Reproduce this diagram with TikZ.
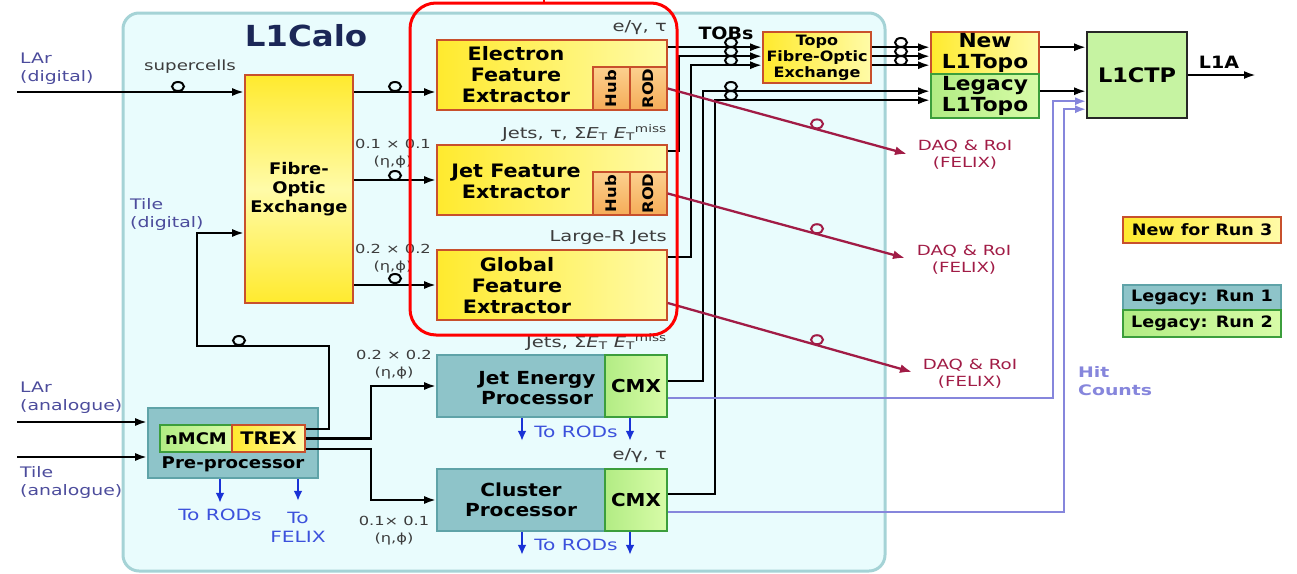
\documentclass[tikz,border=0pt]{standalone}
\usepackage{fontspec}
\setmainfont{DejaVu Sans}[FakeStretch=1.12]
\newfontfamily\lblfont{DejaVu Sans}[FakeStretch=1.3]
\usepackage{graphicx}
\usepackage{tikz}
\usetikzlibrary{positioning,arrows.meta,shapes.geometric}

\definecolor{calobg}{HTML}{E9FCFD}
\definecolor{caloedge}{HTML}{A5D3D6}
\definecolor{ylw}{HTML}{FFEA2E}
\definecolor{ylwpale}{HTML}{FFFBA8}
\definecolor{yledge}{HTML}{C8502C}
\definecolor{org}{HTML}{F5AC58}
\definecolor{orgpale}{HTML}{FCD08E}
\definecolor{grn}{HTML}{B2EC84}
\definecolor{grnpale}{HTML}{D8FCA8}
\definecolor{grnedge}{HTML}{3C9E3C}
\definecolor{tealfill}{HTML}{8EC4C9}
\definecolor{tealedge}{HTML}{5FA3A8}
\definecolor{ctpfill}{HTML}{C6F3A2}
\definecolor{navy}{HTML}{1B2757}
\definecolor{inblue}{HTML}{4C4C9C}
\definecolor{rodblue}{HTML}{1A32D6}
\definecolor{daqred}{HTML}{A11C46}
\definecolor{hitblue}{HTML}{8686DC}
\definecolor{lblgrey}{HTML}{3C3C3C}

\begin{document}
\begin{tikzpicture}[x=1pt, y=-1pt,
calo/.style={draw=caloedge, fill=calobg, line width=3pt, rounded corners=16pt, inner sep=0pt},
box/.style={draw=yledge, line width=1.6pt, inner sep=0pt, align=center},
yelbox/.style={box, left color=ylw, right color=ylwpale},
orgbox/.style={box, top color=orgpale, bottom color=org, minimum width=37pt, minimum height=43pt,
  font=\fontsize{14.6}{16}\selectfont\bfseries},
grnbox/.style={box, draw=grnedge, left color=grn, right color=grnpale},
tealbox/.style={box, draw=tealedge, fill=tealfill},
fextxt/.style={align=center, inner sep=0pt, font=\fontsize{18.5}{21}\selectfont\bfseries},
proctxt/.style={align=center, inner sep=0pt, font=\fontsize{18}{20}\selectfont\bfseries},
lbl/.style={inner sep=0pt, text=lblgrey, font=\lblfont\fontsize{15}{17}\selectfont},
gran/.style={inner sep=0pt, align=center, text=lblgrey, font=\lblfont\fontsize{12.5}{17}\selectfont},
inlbl/.style={inner sep=0pt, align=left, anchor=west, text=inblue, font=\lblfont\fontsize{14.5}{18}\selectfont},
daqlbl/.style={inner sep=0pt, align=center, text=daqred, font=\lblfont\fontsize{14}{17}\selectfont},
rodlbl/.style={inner sep=0pt, align=center, text=rodblue!85!white, font=\lblfont\fontsize{15.5}{19}\selectfont},
legbox/.style={box, minimum width=158pt, font=\fontsize{15.7}{17}\selectfont\bfseries},
sig/.style={line width=2.3pt, -{Latex[length=12pt,width=8pt]}},
daq/.style={draw=daqred, line width=2.3pt, -{Latex[length=12pt,width=9pt]}},
hit/.style={draw=hitblue, line width=2.2pt, -{Latex[length=11pt,width=8pt]}},
rod/.style={draw=rodblue, line width=2.8pt, -{Latex[length=10pt,width=9pt]}},
fib/.style={ellipse, draw, line width=2pt, minimum width=12pt, minimum height=9pt, inner sep=0pt, anchor=south}
]
\useasboundingbox (0,0) rectangle (1297,573);

% L1Calo crate
\node[calo, minimum width=762pt, minimum height=558pt] (calo) at (504,292) {};
\node[text=navy, font=\fontsize{29}{32}\selectfont\bfseries] (l1calo) at (306,36) {L1Calo};

% inputs
\node[inlbl] (lardlbl) at (20,69) {LAr\\(digital)};
\node[inlbl] (tiledlbl) at (130,214) {Tile\\(digital)};
\node[inlbl] (laralbl) at (20,398) {LAr\\(analogue)};
\node[inlbl] (tilealbl) at (20,482) {Tile\\(analogue)};
\node[lbl, font=\lblfont\fontsize{14}{17}\selectfont] (superlbl) at (190,67) {supercells};

% fibre-optic exchange
\node[box, top color=ylw, bottom color=ylw, middle color=ylwpale, minimum width=108pt, minimum height=228pt,
  font=\fontsize{16}{19}\selectfont\bfseries] (fox) at (299,189) {Fibre-\\Optic\\Exchange};

% feature extractors
\node[yelbox, minimum width=230pt, minimum height=70pt] (efex) at (552,75) {};
\node[orgbox] (ehub) at (611.5,88.5) {\rotatebox{90}{Hub}};
\node[orgbox] (erod) at (648.5,88.5) {\rotatebox{90}{ROD}};
\node[fextxt] (efextxt) at (516,75) {Electron\\Feature\\Extractor};

\node[yelbox, minimum width=230pt, minimum height=70pt] (jfex) at (552,180) {};
\node[orgbox] (jhub) at (611.5,193.5) {\rotatebox{90}{Hub}};
\node[orgbox] (jrod) at (648.5,193.5) {\rotatebox{90}{ROD}};
\node[fextxt] (jfextxt) at (516,181) {Jet Feature\\Extractor};

\node[yelbox, minimum width=230pt, minimum height=70pt] (gfex) at (552,285) {};
\node[fextxt] (gfextxt) at (517,286) {Global\\Feature\\Extractor};

\node[lbl, anchor=east] (elbl) at (667,28) {e/γ, τ};
\node[lbl, anchor=east] (jlbl) at (667,133) {Jets, τ, Σ\textit{E}\textsubscript{T} \textit{E}\textsubscript{T}\textsuperscript{miss}};
\node[lbl, anchor=east] (glbl) at (667,238) {Large-R Jets};
\node[gran] (gran1) at (393,154) {0.1 × 0.1\\(η,ϕ)};
\node[gran] (gran2) at (393,259) {0.2 × 0.2\\(η,ϕ)};

% legacy processors
\node[tealbox, minimum width=168pt, minimum height=62pt] (jep) at (521,386) {};
\node[grnbox, minimum width=62pt, minimum height=62pt, font=\fontsize{17.8}{20}\selectfont\bfseries] (jcmx) at (636,386) {CMX};
\node[proctxt] (jeptxt) at (537,388) {Jet Energy\\Processor};
\node[tealbox, minimum width=168pt, minimum height=62pt, font=\fontsize{18}{20}\selectfont\bfseries] (cp) at (521,500) {Cluster\\Processor};
\node[grnbox, minimum width=62pt, minimum height=62pt, font=\fontsize{17.8}{20}\selectfont\bfseries] (ccmx) at (636,500) {CMX};
\node[lbl, anchor=east] (jeplbl) at (667,342) {Jets, Σ\textit{E}\textsubscript{T} \textit{E}\textsubscript{T}\textsuperscript{miss}};
\node[lbl, anchor=east] (cplbl) at (667,456) {e/γ, τ};
\node[gran] (gran3) at (394,365) {0.2 × 0.2\\(η,ϕ)};
\node[gran] (gran4) at (394,531) {0.1× 0.1\\(η,ϕ)};

% pre-processor
\node[tealbox, minimum width=170pt, minimum height=70pt] (pre) at (233,443) {};
\node[grnbox, minimum width=72pt, minimum height=27pt, font=\fontsize{16}{18}\selectfont\bfseries] (nmcm) at (196,438.5) {nMCM};
\node[yelbox, minimum width=73pt, minimum height=27pt, font=\fontsize{17.3}{19}\selectfont\bfseries] (trex) at (268.5,438.5) {TREX};
\node[inner sep=0pt, font=\fontsize{16.2}{18}\selectfont\bfseries] (pretxt) at (233,464) {Pre-processor};

% readout labels
\node[rodlbl] (prerod) at (220,515) {To RODs};
\node[rodlbl] (prefelix) at (298,527) {To\\FELIX};
\node[rodlbl] (jeprod) at (576,432) {To RODs};
\node[rodlbl] (cprod) at (576,545) {To RODs};

% topo and CTP
\node[yelbox, minimum width=108pt, minimum height=51pt, font=\fontsize{14.3}{16}\selectfont\bfseries] (topofox) at (817,57.5) {Topo\\Fibre-Optic\\Exchange};
\node[yelbox, minimum width=108pt, minimum height=42pt, font=\fontsize{19.4}{21}\selectfont\bfseries] (newtopo) at (985,53) {New\\L1Topo};
\node[grnbox, minimum width=108pt, minimum height=44pt, font=\fontsize{19.4}{21}\selectfont\bfseries] (legtopo) at (985,96) {Legacy\\L1Topo};
\node[box, draw=black!85, fill=ctpfill, minimum width=100pt, minimum height=86pt, font=\fontsize{20}{22}\selectfont\bfseries] (ctp) at (1137,75) {L1CTP};
\node[inner sep=0pt, font=\fontsize{17}{19}\selectfont\bfseries] (tobs) at (726,33) {TOBs};
\node[inner sep=0pt, font=\fontsize{17}{19}\selectfont\bfseries] (l1a) at (1219,62) {L1A};

% DAQ and hit counts
\node[daqlbl] (daq1) at (965,155) {DAQ \& RoI\\(FELIX)};
\node[daqlbl] (daq2) at (964,260) {DAQ \& RoI\\(FELIX)};
\node[daqlbl] (daq3) at (970,374) {DAQ \& RoI\\(FELIX)};
\node[inlbl, text=hitblue, font=\lblfont\bfseries\fontsize{14.5}{18}\selectfont] (hitlbl) at (1078,381) {Hit\\Counts};

% legend
\node[legbox, left color=ylw, right color=ylwpale, minimum height=26pt] (legnew) at (1202,230) {New for Run 3};
\node[legbox, draw=tealedge, fill=tealfill, minimum height=25pt] (legrun1) at (1202,297.5) {Legacy: Run 1};
\node[legbox, draw=grnedge, left color=grn, right color=grnpale, minimum height=27pt] (legrun2) at (1202,323.5) {Legacy: Run 2};

% free ends and taps
\coordinate (lardin) at (17,92);
\coordinate (laain) at (17,422);
\coordinate (tain) at (17,457);
\coordinate (tdup) at (197,233);
\coordinate (l1aout) at (1256,75);
\coordinate (daq1tip) at (907,154);
\coordinate (daq2tip) at (905,258);
\coordinate (daq3tip) at (912,372);
\coordinate (tob1) at ([yshift=-8pt]efex.north east);
\coordinate (tob2) at ([yshift=-7pt]jfex.north east);
\coordinate (tob3) at ([yshift=-8pt]gfex.north east);
\coordinate (tob4) at ([yshift=-27pt]jcmx.north east);
\coordinate (tob5) at ([yshift=-26pt]ccmx.north east);
\coordinate (tin1) at ([yshift=-16pt]topofox.north west);
\coordinate (tin2) at ([yshift=-25pt]topofox.north west);
\coordinate (tin3) at ([yshift=-34pt]topofox.north west);
\coordinate (nin1) at ([yshift=-16pt]newtopo.north west);
\coordinate (nin2) at ([yshift=-25pt]newtopo.north west);
\coordinate (nin3) at ([yshift=-34pt]newtopo.north west);
\coordinate (lin1) at ([yshift=-18pt]legtopo.north west);
\coordinate (lin2) at ([yshift=-27pt]legtopo.north west);

% calorimeter inputs
\draw[sig] (lardin) -- (lardin -| fox.west);
\draw[sig] (laain) -- (laain -| pre.west);
\draw[sig] (tain) -- (tain -| pre.west);
\draw[sig] ([yshift=-5pt]trex.north east) -| (329,346) -| (tdup) -- (tdup -| fox.west);
\draw[sig] (trex.east) -- ++(65,0) |- (jep.west);
\draw[sig] ([yshift=4pt]trex.south east) -- ++(65,0) |- (cp.west);

% towers to extractors
\draw[sig] (lardin -| fox.east) -- (lardin -| efex.west);
\draw[sig] (fox.east |- jfex.west) -- (jfex.west);
\draw[sig] (fox.east |- gfex.west) -- (gfex.west);

% TOBs
\draw[sig] (tob1) -- (tin1);
\draw[sig] (tob2) -- ++(11,0) |- (tin2);
\draw[sig] (tob3) -- ++(23,0) |- (tin3);
\draw[sig] (tob4) -- ++(35,0) |- (lin1);
\draw[sig] (tob5) -- ++(47,0) |- (lin2);
\draw[sig] (tin1 -| topofox.east) -- (nin1);
\draw[sig] (tin2 -| topofox.east) -- (nin2);
\draw[sig] (tin3 -| topofox.east) -- (nin3);
\draw[sig] (nin1 -| newtopo.east) -- (nin1 -| ctp.west);
\draw[sig] (lin1 -| legtopo.east) -- (lin1 -| ctp.west);
\draw[sig] (ctp.east) -- (l1aout);

% hit counts
\draw[hit] ([yshift=-44pt]jcmx.north east) -- ++(385,0) |- ([yshift=-70pt]ctp.north west);
\draw[hit] ([yshift=-44pt]ccmx.north east) -- ++(396,0) |- ([yshift=-78pt]ctp.north west);

% readout
\draw[daq] (erod.east) -- (daq1tip);
\draw[daq] (jrod.east) -- (daq2tip);
\draw[daq] ([yshift=-18pt]gfex.east) -- (daq3tip);
\draw[rod] ([xshift=-13pt]pre.south) -- ++(0,24);
\draw[rod] ([xshift=65pt]pre.south) -- ++(0,22);
\draw[rod] ([xshift=1pt]jep.south) -- ++(0,23);
\draw[rod] ([xshift=-6pt]jcmx.south) -- ++(0,23);
\draw[rod] ([xshift=1pt]cp.south) -- ++(0,23);
\draw[rod] ([xshift=-6pt]ccmx.south) -- ++(0,23);

% optical links
\foreach \cx/\cy [count=\i] in {178/92, 395/92, 395/181, 395/284, 239/346, 731/48, 731/57, 731/66,
  731/92, 731/101, 901/48, 901/57, 901/66}
  \node[fib] (fib\i) at (\cx,\cy) {};
\foreach \cx/\cy [count=\i] in {817/129.4, 817/234.2, 817/345.2}
  \node[fib, draw=daqred] (daqfib\i) at (\cx,\cy) {};

% run-3 feature extractors
\node[draw=red, line width=3pt, rounded corners=26pt, minimum width=267pt, minimum height=332pt, inner sep=0pt] (fexhl) at (543.5,169) {};
\draw[red, line width=2pt] (fexhl.north) -- ++(0,-4);
\end{tikzpicture}
\end{document}
